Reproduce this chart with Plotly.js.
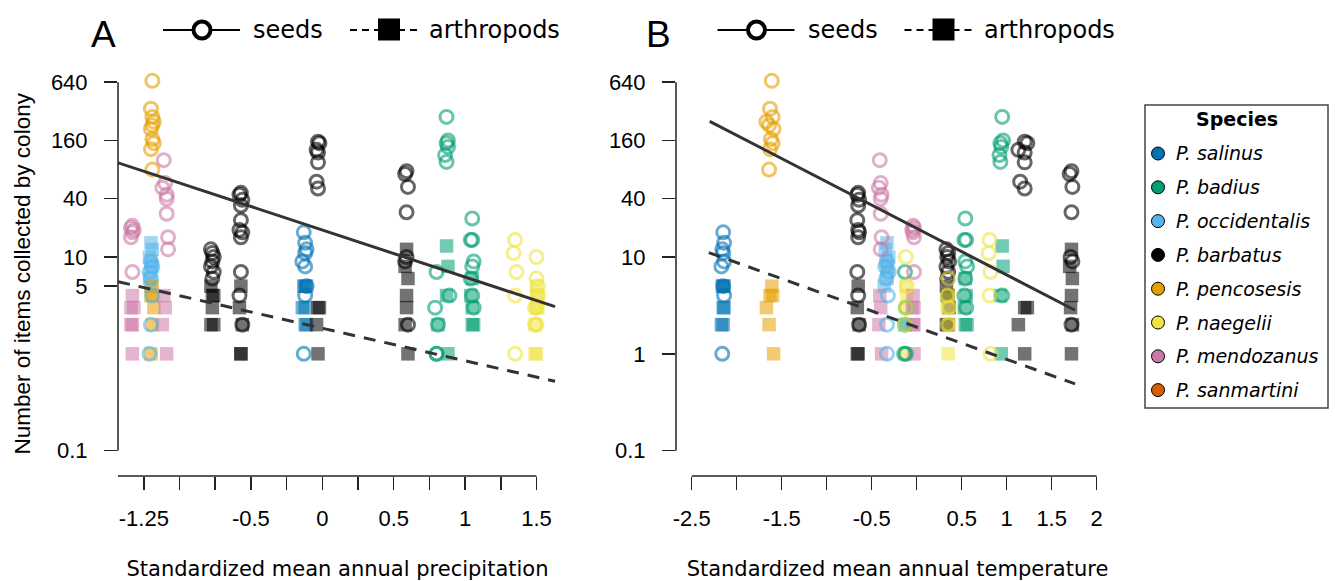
<!DOCTYPE html>
<html>
<head>
<meta charset="utf-8">
<script src="https://cdn.plot.ly/plotly-3.0.1.min.js"></script>
<style>
html,body{margin:0;padding:0;background:#ffffff;}
#chart{width:1335px;height:581px;}
</style>
</head>
<body>
<div id="chart"></div>
<script>
// ---------------- DATA ----------------
const speciesNames = ["P. salinus","P. badius","P. occidentalis","P. barbatus","P. pencosesis","P. naegelii","P. mendozanus","P. sanmartini"];

// P. salinus
const salinusPrec  = [-0.13,-0.12,-0.11,-0.12,-0.14,-0.12,-0.11,-0.12,-0.13];
const salinusTemp  = [-2.15,-2.14,-2.16,-2.15,-2.14,-2.17,-2.15,-2.14,-2.16];
const salinusSeeds = [18,14,12,11,9,8,5,4,1];
const salinusArth  = [5,5,5,3,3,2,2,null,null];

// P. badius
const badiusPrec  = [0.80,0.79,0.81,0.80,0.80, 0.87,0.88,0.87,0.88,0.86,0.87,0.89, 1.05,1.04,1.05,1.06,1.05,1.04,1.05,1.06];
const badiusTemp  = [-0.13,-0.12,-0.13,-0.14,-0.12, 0.95,0.96,0.93,0.94,0.92,0.93,0.95, 0.54,0.55,0.53,0.54,0.56,0.54,0.53,0.55];
const badiusSeeds = [7,3,2,1,1, 280,160,150,137,113,96,4, 25,15,15,9,8,6,4,3];
const badiusArth  = [null,null,2,null,null, 13,8,4,1,null,null,null, 6,4,3,2,2,null,null,null];

// P. occidentalis
const occidPrec  = [-1.20,-1.19,-1.21,-1.20,-1.19,-1.20,-1.21,-1.20];
const occidTemp  = [-0.33,-0.35,-0.31,-0.34,-0.32,-0.33,-0.33,-0.36];
const occidSeeds = [9,8,7,6,4,2,1,null];
const occidArth  = [14,12,10,9,8,7,6,5];

// P. barbatus
const barbatusPrec  = [-0.78,-0.77,-0.76,-0.77,-0.78,-0.76,-0.77,
                       -0.57,-0.58,-0.56,-0.57,-0.57,-0.58,-0.56,-0.57,-0.57,-0.58,-0.56,
                       -0.03,-0.02,-0.04,-0.03,-0.03,-0.04,-0.03,
                        0.59, 0.58, 0.60, 0.59, 0.59, 0.58, 0.60];
const barbatusTemp  = [0.33,0.35,0.34,0.36,0.33,0.35,0.34,
                       -0.65,-0.66,-0.64,-0.65,-0.66,-0.65,-0.64,-0.65,-0.66,-0.65,-0.64,
                        1.20,1.23,1.13,1.20,1.20,1.15,1.20,
                        1.72,1.70,1.73,1.72,1.71,1.73,1.72];
const barbatusSeeds = [12,11,10,9,8,7,6,
                       46,44,39,34,24,19,18,16,7,4,2,
                       155,150,128,120,95,60,51,
                       77,72,53,29,10,9,2];
const barbatusArth  = [5,4,4,3,2,2,null,
                       5,3,2,1,1,null,null,null,null,null,null,
                       3,3,2,1,null,null,null,
                       12,8,6,4,3,2,1];

// P. pencosesis
const pencoPrec  = [-1.19,-1.20,-1.19,-1.18,-1.19,-1.20,-1.19,-1.18,-1.20,-1.19];
const pencoTemp  = [-1.61,-1.63,-1.60,-1.67,-1.64,-1.59,-1.62,-1.60,-1.63,-1.64];
const pencoSeeds = [660,340,280,250,230,210,165,150,130,80];
const pencoArth  = [5,4,4,3,2,1,null,null,null,null];

// P. naegelii
const naegeliiPrec  = [1.35,1.34,1.36,1.35,1.35, 1.50,1.51,1.50,1.49, 1.50,1.51,1.49,1.50];
const naegeliiTemp  = [0.81,0.80,0.82,0.81,0.82, -0.12,-0.11,-0.12,-0.13, 0.35,0.34,0.36,0.35];
const naegeliiSeeds = [15,11,7,4,1, 10,5,3,2, 6,4,3,2];
const naegeliiArth  = [null,null,null,null,null, 5,4,3,1, 4,3,2,1];

// P. mendozanus
const mendoPrec  = [-1.33,-1.34,-1.32,-1.33,-1.34,-1.33, -1.11,-1.10,-1.12,-1.09,-1.09,-1.09,-1.08,-1.08];
const mendoTemp  = [-0.04,-0.03,-0.05,-0.04,-0.03,-0.03, -0.41,-0.40,-0.42,-0.39,-0.40,-0.40,-0.39,-0.40];
const mendoSeeds = [21,20,19,18,16,7, 100,58,52,44,40,28,16,12];
const mendoArth  = [4,3,3,2,2,1, 4,3,2,1,null,null,null,null];

// P. sanmartini (no visible colonies)
const sanmartiniPrec  = [];
const sanmartiniTemp  = [];
const sanmartiniSeeds = [];
const sanmartiniArth  = [];

// fitted lines
const seedFitPrecX = [-1.43, 1.63];
const seedFitPrecY = [94, 3.07];
const arthFitPrecX = [-1.43, 1.63];
const arthFitPrecY = [5.56, 0.52];
const seedFitTempX = [-2.30, 1.76];
const seedFitTempY = [252, 2.82];
const arthFitTempX = [-2.31, 1.76];
const arthFitTempY = [11.1, 0.49];

// axis ticks
const yTickValsA = [0.1, 5, 10, 40, 160, 640];
const yTickTextA = ["0.1","5","10","40","160","640"];
const yTickValsB = [0.1, 1, 10, 40, 160, 640];
const yTickTextB = ["0.1","1","10","40","160","640"];
const xTickValsA = [-1.25,-1,-0.75,-0.5,-0.25,0,0.25,0.5,0.75,1,1.25,1.5];
const xTickTextA = ["-1.25","","","-0.5","","0","","0.5","","1","","1.5"];
const xTickValsB = [-2.5,-2,-1.5,-1,-0.5,0,0.5,1,1.5,2];
const xTickTextB = ["-2.5","","-1.5","","-0.5","","0.5","1","1.5","2"];

// ---------------- STYLE ----------------
const speciesColors = ["#0072B2","#009E73","#56B4E9","#000000","#E69F00","#F0E442","#CC79A7","#D55E00"];
const W = 1335, H = 581;
const px = v => v / W;
const py = v => 1 - v / H;

const speciesData = [
  {prec: salinusPrec, temp: salinusTemp, seeds: salinusSeeds, arth: salinusArth},
  {prec: badiusPrec, temp: badiusTemp, seeds: badiusSeeds, arth: badiusArth},
  {prec: occidPrec, temp: occidTemp, seeds: occidSeeds, arth: occidArth},
  {prec: barbatusPrec, temp: barbatusTemp, seeds: barbatusSeeds, arth: barbatusArth},
  {prec: pencoPrec, temp: pencoTemp, seeds: pencoSeeds, arth: pencoArth},
  {prec: naegeliiPrec, temp: naegeliiTemp, seeds: naegeliiSeeds, arth: naegeliiArth},
  {prec: mendoPrec, temp: mendoTemp, seeds: mendoSeeds, arth: mendoArth},
  {prec: sanmartiniPrec, temp: sanmartiniTemp, seeds: sanmartiniSeeds, arth: sanmartiniArth}
];

const traces = [];
const panels = [{xa:'x', ya:'y', key:'prec'}, {xa:'x2', ya:'y2', key:'temp'}];
panels.forEach(p => {
  speciesData.forEach((d, i) => {
    traces.push({
      type:'scatter', mode:'markers', x:d[p.key], y:d.arth, xaxis:p.xa, yaxis:p.ya,
      name: speciesNames[i] + ' arthropods', showlegend:false, cliponaxis:false, hoverinfo:'skip',
      marker:{symbol:'square', size:13.5, color:speciesColors[i], opacity:0.55, line:{width:0}}
    });
  });
  speciesData.forEach((d, i) => {
    traces.push({
      type:'scatter', mode:'markers', x:d[p.key], y:d.seeds, xaxis:p.xa, yaxis:p.ya,
      name: speciesNames[i] + ' seeds', showlegend:false, cliponaxis:false, hoverinfo:'skip',
      marker:{symbol:'circle-open', size:13, color:speciesColors[i], opacity:0.6,
              line:{width:3, color:speciesColors[i]}}
    });
  });
});

const fitLine = {color:'#333333', width:3};
traces.push({type:'scatter', mode:'lines', x:seedFitPrecX, y:seedFitPrecY, xaxis:'x', yaxis:'y', line:fitLine, showlegend:false, hoverinfo:'skip'});
traces.push({type:'scatter', mode:'lines', x:arthFitPrecX, y:arthFitPrecY, xaxis:'x', yaxis:'y', line:Object.assign({dash:'12px,9px'}, fitLine), showlegend:false, hoverinfo:'skip'});
traces.push({type:'scatter', mode:'lines', x:seedFitTempX, y:seedFitTempY, xaxis:'x2', yaxis:'y2', line:fitLine, showlegend:false, hoverinfo:'skip'});
traces.push({type:'scatter', mode:'lines', x:arthFitTempX, y:arthFitTempY, xaxis:'x2', yaxis:'y2', line:Object.assign({dash:'12px,9px'}, fitLine), showlegend:false, hoverinfo:'skip'});

const tickFont = {family:'Liberation Sans, Arial, sans-serif', size:22, color:'#000'};
const titleFont = {family:'DejaVu Sans, Verdana, sans-serif', size:21, color:'#000'};
const yRange = [-1.262, 3.035];
const yDomain = [py(476), py(60)];

function xAxis(domain, range, vals, text, title) {
  return {domain:domain, range:range, tickmode:'array', tickvals:vals, ticktext:text,
    ticks:'outside', ticklen:13, tickwidth:1.5, tickcolor:'#222', tickfont:tickFont,
    ticklabelstandoff:10, showgrid:false, zeroline:false, showline:false, fixedrange:true,
    title:{text:title, font:titleFont, standoff:31}};
}
function yAxis(anchor, vals, text) {
  return {type:'log', domain:yDomain, range:yRange, anchor:anchor, tickmode:'array', tickvals:vals, ticktext:text,
    ticks:'outside', ticklen:13, tickwidth:1.5, tickcolor:'#222', tickfont:tickFont,
    ticklabelstandoff:12, showgrid:false, zeroline:false, showline:false, fixedrange:true};
}

const xRangeA = [-1.4307, 1.6436];
const xRangeB = [-2.6744, 2.248];

const axisLine = {color:'#222', width:1.5};
const shapes = [
  {type:'line', xref:'x', yref:'y domain', x0:xRangeA[0], x1:xTickValsA[xTickValsA.length-1], y0:0, y1:0, line:axisLine},
  {type:'line', xref:'x2', yref:'y2 domain', x0:xTickValsB[0], x1:xTickValsB[xTickValsB.length-1], y0:0, y1:0, line:axisLine},
  {type:'line', xref:'x domain', yref:'y', x0:0, x1:0, y0:yTickValsA[0], y1:yTickValsA[yTickValsA.length-1], line:axisLine},
  {type:'line', xref:'x2 domain', yref:'y2', x0:0, x1:0, y0:yTickValsB[0], y1:yTickValsB[yTickValsB.length-1], line:axisLine}
];
const annotations = [];

// y axis title (panel A)
annotations.push({xref:'paper', yref:'paper', x:px(22), y:py(273.5), xanchor:'center', yanchor:'middle', showarrow:false,
  textangle:-90, text:'Number of items collected by colony',
  font:{family:'Liberation Sans, Arial, sans-serif', size:22.5, color:'#000'}});

// top keys (seeds / arthropods) for both panels
[0, 554.5].forEach(off => {
  shapes.push({type:'line', xref:'paper', yref:'paper', x0:px(163+off), x1:px(240+off), y0:py(30), y1:py(30), line:{color:'#000', width:2}});
  shapes.push({type:'circle', xref:'paper', yref:'paper', xsizemode:'pixel', ysizemode:'pixel',
    xanchor:px(202+off), yanchor:py(30), x0:-8.5, x1:8.5, y0:-8.5, y1:8.5, fillcolor:'#fff', line:{color:'#000', width:4}});
  shapes.push({type:'line', xref:'paper', yref:'paper', x0:px(350+off), x1:px(421+off), y0:py(30), y1:py(30), line:{color:'#000', width:2, dash:'7px,5px'}});
  shapes.push({type:'rect', xref:'paper', yref:'paper', xsizemode:'pixel', ysizemode:'pixel',
    xanchor:px(389+off), yanchor:py(29.5), x0:-11, x1:11, y0:-11, y1:11, fillcolor:'#000', line:{width:0}});
  annotations.push({xref:'paper', yref:'paper', x:px(251+off), y:py(30), xanchor:'left', yanchor:'middle', showarrow:false,
    text:'seeds', font:{family:'DejaVu Sans, Verdana, sans-serif', size:24, color:'#000'}});
  annotations.push({xref:'paper', yref:'paper', x:px(427+off), y:py(30), xanchor:'left', yanchor:'middle', showarrow:false,
    text:'arthropods', font:{family:'DejaVu Sans, Verdana, sans-serif', size:24, color:'#000'}});
});
annotations.push({xref:'paper', yref:'paper', x:px(103.5), y:py(34), xanchor:'center', yanchor:'middle', showarrow:false,
  text:'A', font:{family:'Liberation Sans, Arial, sans-serif', size:37, color:'#000'}});
annotations.push({xref:'paper', yref:'paper', x:px(658.5), y:py(34), xanchor:'center', yanchor:'middle', showarrow:false,
  text:'B', font:{family:'Liberation Sans, Arial, sans-serif', size:37, color:'#000'}});

// species legend box
shapes.push({type:'rect', xref:'paper', yref:'paper', x0:px(1145), x1:px(1328), y0:py(105), y1:py(408), line:{color:'#444', width:1.5}, fillcolor:'rgba(0,0,0,0)'});
annotations.push({xref:'paper', yref:'paper', x:px(1237), y:py(118.5), xanchor:'center', yanchor:'middle', showarrow:false,
  text:'<b>Species</b>', font:{family:'DejaVu Sans, Verdana, sans-serif', size:19, color:'#000'}});
speciesNames.forEach((s, i) => {
  const cy = 153.5 + i * 33.8;
  shapes.push({type:'circle', xref:'paper', yref:'paper', xsizemode:'pixel', ysizemode:'pixel',
    xanchor:px(1158), yanchor:py(cy), x0:-6.5, x1:6.5, y0:-6.5, y1:6.5, fillcolor:speciesColors[i], line:{color:'#000', width:1}});
  annotations.push({xref:'paper', yref:'paper', x:px(1174), y:py(cy), xanchor:'left', yanchor:'middle', showarrow:false,
    text:'<i>' + s + '</i>', font:{family:'DejaVu Sans, Verdana, sans-serif', size:19, color:'#000'}});
});

const layout = {
  width:W, height:H, margin:{l:0, r:0, t:0, b:0}, paper_bgcolor:'#fff', plot_bgcolor:'#fff',
  showlegend:false, font:{family:'Liberation Sans, Arial, sans-serif', color:'#000'},
  xaxis: xAxis([px(118), px(557)], xRangeA, xTickValsA, xTickTextA, 'Standardized mean annual precipitation'),
  yaxis: yAxis('x', yTickValsA, yTickTextA),
  xaxis2: Object.assign(xAxis([px(676), px(1119)], xRangeB, xTickValsB, xTickTextB, 'Standardized mean annual temperature'), {anchor:'y2'}),
  yaxis2: yAxis('x2', yTickValsB, yTickTextB),
  shapes: shapes, annotations: annotations
};
layout.xaxis.anchor = 'y';

Plotly.newPlot('chart', traces, layout, {displayModeBar:false, staticPlot:true});
</script>
</body>
</html>
